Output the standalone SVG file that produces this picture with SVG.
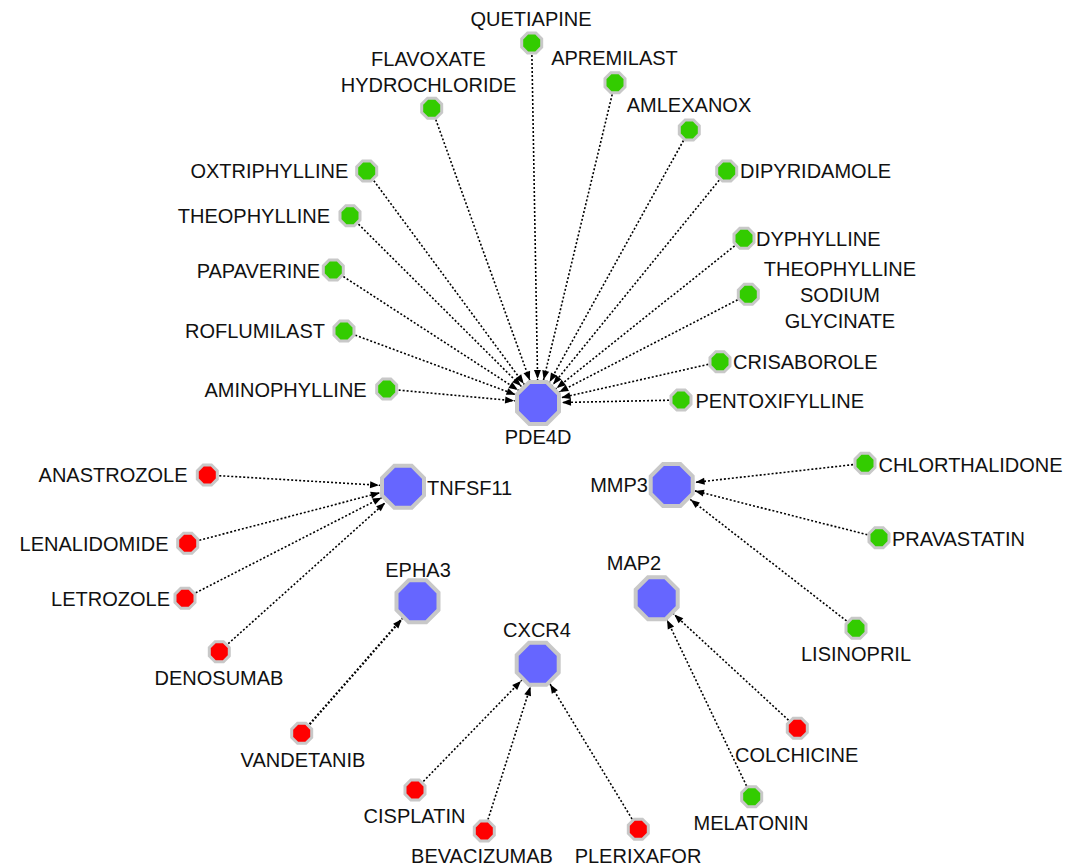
<svg xmlns="http://www.w3.org/2000/svg" xmlns:xlink="http://www.w3.org/1999/xlink" width="1083" height="868" viewBox="0 0 1083 868">
<style>
text{font-family:"Liberation Sans",Arial,sans-serif;font-size:20px;fill:#111;}
.m{text-anchor:middle}.e{text-anchor:end}
.edge{stroke:#000;stroke-width:1.6;stroke-dasharray:2 2;fill:none;marker-end:url(#arr);}
.big{fill:#6666ff;stroke:#c8c8c8;stroke-width:4;}
.g{fill:#33cc00;stroke:#c8c8c8;stroke-width:3;}
.r{fill:#ff0000;stroke:#c8c8c8;stroke-width:3;}
</style>
<defs>
<marker id="arr" markerUnits="userSpaceOnUse" markerWidth="40" markerHeight="8" refX="33" refY="3.5" orient="auto" overflow="visible">
<path d="M0,0 L9,3.5 L0,7 z" fill="#000"/>
</marker>
<polygon id="ob" points="21,8.7 8.7,21 -8.7,21 -21,8.7 -21,-8.7 -8.7,-21 8.7,-21 21,-8.7"/>
<polygon id="os" points="10,4.14 4.14,10 -4.14,10 -10,4.14 -10,-4.14 -4.14,-10 4.14,-10 10,-4.14"/>
</defs>
<rect width="1083" height="868" fill="#fff"/>
<g id="connectors">
<line class="edge" x1="531.7" y1="43" x2="538" y2="403"/>
<line class="edge" x1="431.7" y1="108.3" x2="538" y2="403"/>
<line class="edge" x1="615" y1="82.7" x2="538" y2="403"/>
<line class="edge" x1="689.3" y1="130" x2="538" y2="403"/>
<line class="edge" x1="366.7" y1="171" x2="538" y2="403"/>
<line class="edge" x1="726.7" y1="171" x2="538" y2="403"/>
<line class="edge" x1="350" y1="215.7" x2="538" y2="403"/>
<line class="edge" x1="744" y1="238.3" x2="538" y2="403"/>
<line class="edge" x1="333.3" y1="270" x2="538" y2="403"/>
<line class="edge" x1="748.3" y1="294.3" x2="538" y2="403"/>
<line class="edge" x1="344" y1="331" x2="538" y2="403"/>
<line class="edge" x1="720" y1="361.7" x2="538" y2="403"/>
<line class="edge" x1="386.7" y1="389" x2="538" y2="403"/>
<line class="edge" x1="681" y1="400" x2="538" y2="403"/>
<line class="edge" x1="207.3" y1="475" x2="403" y2="486.7"/>
<line class="edge" x1="187.7" y1="543.3" x2="403" y2="486.7"/>
<line class="edge" x1="185" y1="598.3" x2="403" y2="486.7"/>
<line class="edge" x1="219.3" y1="651.7" x2="403" y2="486.7"/>
<line class="edge" x1="865" y1="463.3" x2="671.7" y2="485"/>
<line class="edge" x1="879" y1="537.7" x2="671.7" y2="485"/>
<line class="edge" x1="856" y1="628.3" x2="671.7" y2="485"/>
<line class="edge" style="stroke-width:2.3" x1="301.7" y1="733.3" x2="417.5" y2="601.3"/>
<line class="edge" x1="415" y1="790" x2="537.7" y2="663.8"/>
<line class="edge" x1="484.3" y1="831" x2="537.7" y2="663.8"/>
<line class="edge" x1="638.3" y1="829.3" x2="537.7" y2="663.8"/>
<line class="edge" x1="797.3" y1="728.3" x2="656.7" y2="598.3"/>
<line class="edge" x1="751.7" y1="796.7" x2="656.7" y2="598.3"/>
</g>
<g id="node-PDE4D"><use href="#ob" class="big" x="538" y="403"/><text class="m" x="538" y="444">PDE4D</text></g>
<g id="node-TNFSF11"><use href="#ob" class="big" x="403" y="486.7"/><text x="427" y="495">TNFSF11</text></g>
<g id="node-MMP3"><use href="#ob" class="big" x="671.7" y="485"/><text class="e" x="648" y="492">MMP3</text></g>
<g id="node-EPHA3"><use href="#ob" class="big" x="417.5" y="601.3"/><text class="m" x="418" y="577">EPHA3</text></g>
<g id="node-MAP2"><use href="#ob" class="big" x="656.7" y="598.3"/><text class="m" x="634" y="570">MAP2</text></g>
<g id="node-CXCR4"><use href="#ob" class="big" x="537.7" y="663.8"/><text class="m" x="537" y="637">CXCR4</text></g>
<g id="node-QUETIAPINE"><use href="#os" class="g" x="531.7" y="43"/><text class="m" x="531" y="26">QUETIAPINE</text></g>
<g id="node-FLAVOXATE"><use href="#os" class="g" x="431.7" y="108.3"/><text class="m" x="428.5" y="65.7">FLAVOXATE</text><text class="m" x="428.5" y="91.7">HYDROCHLORIDE</text></g>
<g id="node-APREMILAST"><use href="#os" class="g" x="615" y="82.7"/><text class="m" x="614.5" y="65">APREMILAST</text></g>
<g id="node-AMLEXANOX"><use href="#os" class="g" x="689.3" y="130"/><text class="m" x="689" y="112">AMLEXANOX</text></g>
<g id="node-OXTRIPHYLLINE"><use href="#os" class="g" x="366.7" y="171"/><text class="e" x="348.3" y="178">OXTRIPHYLLINE</text></g>
<g id="node-DIPYRIDAMOLE"><use href="#os" class="g" x="726.7" y="171"/><text x="740" y="178">DIPYRIDAMOLE</text></g>
<g id="node-THEOPHYLLINE"><use href="#os" class="g" x="350" y="215.7"/><text class="e" x="330" y="223">THEOPHYLLINE</text></g>
<g id="node-DYPHYLLINE"><use href="#os" class="g" x="744" y="238.3"/><text x="756" y="246">DYPHYLLINE</text></g>
<g id="node-PAPAVERINE"><use href="#os" class="g" x="333.3" y="270"/><text class="e" x="320" y="278">PAPAVERINE</text></g>
<g id="node-THEOSODIUM"><use href="#os" class="g" x="748.3" y="294.3"/><text class="m" x="840" y="276">THEOPHYLLINE</text><text class="m" x="840" y="302">SODIUM</text><text class="m" x="840" y="328">GLYCINATE</text></g>
<g id="node-ROFLUMILAST"><use href="#os" class="g" x="344" y="331"/><text class="e" x="325" y="338">ROFLUMILAST</text></g>
<g id="node-CRISABOROLE"><use href="#os" class="g" x="720" y="361.7"/><text x="733" y="369">CRISABOROLE</text></g>
<g id="node-AMINOPHYLLINE"><use href="#os" class="g" x="386.7" y="389"/><text class="e" x="366.7" y="397">AMINOPHYLLINE</text></g>
<g id="node-PENTOXIFYLLINE"><use href="#os" class="g" x="681" y="400"/><text x="695.5" y="408">PENTOXIFYLLINE</text></g>
<g id="node-ANASTROZOLE"><use href="#os" class="r" x="207.3" y="475"/><text class="e" x="187.5" y="482">ANASTROZOLE</text></g>
<g id="node-LENALIDOMIDE"><use href="#os" class="r" x="187.7" y="543.3"/><text class="e" x="168.5" y="551">LENALIDOMIDE</text></g>
<g id="node-LETROZOLE"><use href="#os" class="r" x="185" y="598.3"/><text class="e" x="170" y="606">LETROZOLE</text></g>
<g id="node-DENOSUMAB"><use href="#os" class="r" x="219.3" y="651.7"/><text class="m" x="219" y="685">DENOSUMAB</text></g>
<g id="node-CHLORTHALIDONE"><use href="#os" class="g" x="865" y="463.3"/><text x="878.5" y="471.5">CHLORTHALIDONE</text></g>
<g id="node-PRAVASTATIN"><use href="#os" class="g" x="879" y="537.7"/><text x="892" y="546">PRAVASTATIN</text></g>
<g id="node-LISINOPRIL"><use href="#os" class="g" x="856" y="628.3"/><text class="m" x="856" y="661">LISINOPRIL</text></g>
<g id="node-VANDETANIB"><use href="#os" class="r" x="301.7" y="733.3"/><text class="m" x="303" y="767">VANDETANIB</text></g>
<g id="node-CISPLATIN"><use href="#os" class="r" x="415" y="790"/><text class="m" x="414.5" y="823">CISPLATIN</text></g>
<g id="node-BEVACIZUMAB"><use href="#os" class="r" x="484.3" y="831"/><text class="m" x="482" y="863">BEVACIZUMAB</text></g>
<g id="node-PLERIXAFOR"><use href="#os" class="r" x="638.3" y="829.3"/><text class="m" x="638" y="863">PLERIXAFOR</text></g>
<g id="node-COLCHICINE"><use href="#os" class="r" x="797.3" y="728.3"/><text x="735" y="762">COLCHICINE</text></g>
<g id="node-MELATONIN"><use href="#os" class="g" x="751.7" y="796.7"/><text class="m" x="751" y="830">MELATONIN</text></g>
</svg>
